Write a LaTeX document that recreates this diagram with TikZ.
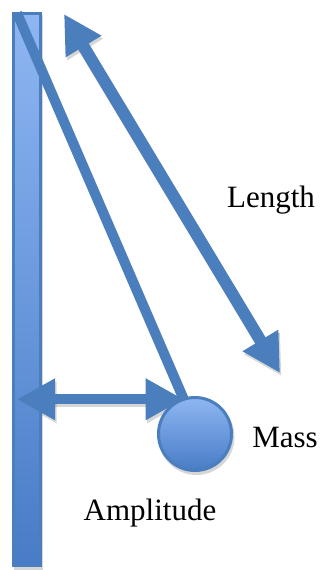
\documentclass[tikz,border=0pt]{standalone}
\usepackage{fontspec}
\setmainfont{Liberation Serif}
\usetikzlibrary{arrows.meta}
\definecolor{edge}{RGB}{74,126,189}
\definecolor{lightfill}{RGB}{142,182,242}
\definecolor{darkfill}{RGB}{72,124,198}
\pgfdeclarelayer{bg}
\pgfsetlayers{bg,main}
\begin{document}
\begin{tikzpicture}[x=1pt,y=-1pt,
  polebox/.style={rectangle, draw=edge, line width=3pt, top color=lightfill, bottom color=darkfill,
    minimum width=26.5pt, minimum height=552pt, inner sep=0pt, outer sep=0pt},
  bob/.style={circle, draw=edge, line width=3pt, top color=lightfill, bottom color=darkfill,
    minimum size=73pt, inner sep=0pt, outer sep=0pt},
  wire/.style={draw=edge, line width=10pt},
  dimarrow/.style={draw=edge, fill=edge, line width=12pt,
    {Triangle[length=38pt,width=39pt]}-{Triangle[length=38pt,width=39pt]}},
  amparrow/.style={dimarrow, line width=10pt},
  lbl/.style={font=\fontsize{31}{37}\selectfont, inner sep=0pt, anchor=base},
  shadowcopy/.style={transform canvas={shift={(1.5pt,-3pt)}}, opacity=0.16}
]
\useasboundingbox (0,0) rectangle (320,570);

% pole
\node[polebox] (pole) at (27,289) {};
\coordinate (pivot) at (17,13);
\coordinate (lentop) at (64,14);
\coordinate (lenbot) at (280,373);

% string (drawn before the bob so the bob covers its end)
\coordinate (bobpos) at (195,434);
\path (bobpos) node[circle, minimum size=73pt, inner sep=0pt, outer sep=0pt] (bobshape) {};
\coordinate (ampleft) at (bobshape.108 -| pivot);

\draw[wire] (pivot) -- (bobshape.108);

% length arrow
\draw[dimarrow] (lentop) -- (lenbot);

% amplitude arrow
\draw[amparrow] (ampleft) -- (bobshape.108);

% bob
\node[bob] (ball) at (bobpos) {};

% shadows
\begin{pgfonlayer}{bg}
\begin{scope}[shadowcopy]
  \fill[black] (12.25,11.5) rectangle (41.75,566.5);
  \fill[black] (bobpos) circle[radius=38pt];
  \draw[black, line width=10pt] (pivot) -- (bobshape.108);
  \draw[dimarrow, draw=black, fill=black] (lentop) -- (lenbot);
  \draw[amparrow, draw=black, fill=black] (ampleft) -- (bobshape.108);
\end{scope}
\end{pgfonlayer}

% labels
\node[lbl] (lenlabel) at (271,207) {Length};
\node[lbl] (masslabel) at (285,447) {Mass};
\node[lbl] (amplabel) at (150,520) {Amplitude};
\end{tikzpicture}
\end{document}
